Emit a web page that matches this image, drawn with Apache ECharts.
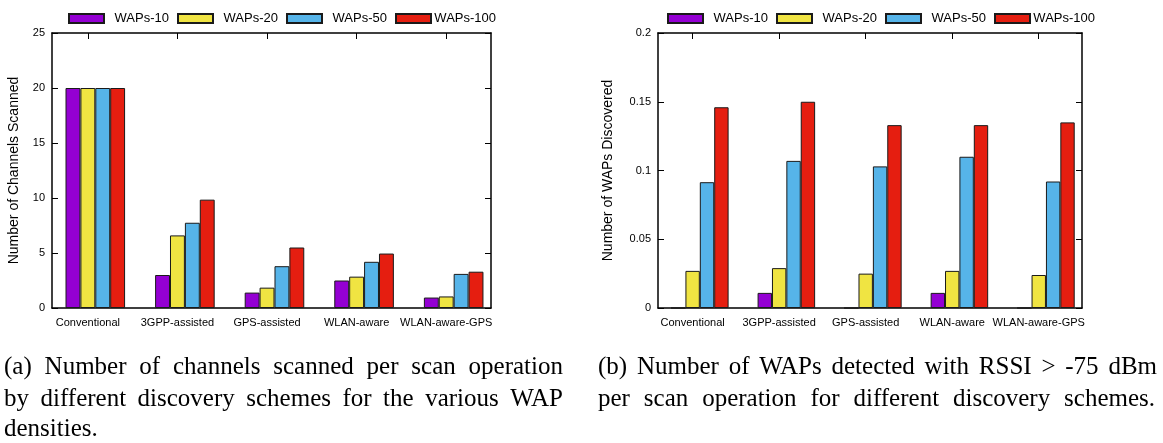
<!DOCTYPE html>
<html>
<head>
<meta charset="utf-8">
<script src="https://cdn.jsdelivr.net/npm/echarts@6/dist/echarts.min.js"></script>
<style>
  html, body { margin: 0; padding: 0; background: #fff; }
  #main { width: 1163px; height: 443px; }
</style>
</head>
<body>
<div id="main"></div>
<script>
const schemes = ['Conventional', '3GPP-assisted', 'GPS-assisted', 'WLAN-aware', 'WLAN-aware-GPS'];
const densities = ['WAPs-10', 'WAPs-20', 'WAPs-50', 'WAPs-100'];

// (a) channels scanned per scan operation
const channels10 = [20, 3.0, 1.4, 2.5, 0.95];
const channels20 = [20, 6.6, 1.85, 2.85, 1.05];
const channels50 = [20, 7.75, 3.8, 4.2, 3.1];
const channels100 = [20, 9.85, 5.5, 4.95, 3.3];

// (b) WAPs discovered with RSSI > -75 dBm
const waps10 = [0, 0.011, 0, 0.011, 0];
const waps20 = [0.027, 0.029, 0.025, 0.027, 0.024];
const waps50 = [0.0915, 0.107, 0.103, 0.110, 0.092];
const waps100 = [0.146, 0.15, 0.133, 0.133, 0.135];

const captionA = [
  '(a) Number of channels scanned per scan operation',
  'by different discovery schemes for the various WAP',
  'densities.'
];
const captionB = [
  '(b) Number of WAPs detected with RSSI > -75 dBm',
  'per scan operation for different discovery schemes.'
];

const colors = ['#9400d3', '#f0e442', '#56b4e9', '#e51e10'];
// gnuplot puts the tic under the 2nd bar of a cluster, so clusters sit half a bar to the right
const shift = 1 / 12;

let chart = echarts.init(document.getElementById('main'));

function bars(values, k, idx) {
  return {
    name: densities[k],
    type: 'bar',
    xAxisIndex: idx * 2,
    yAxisIndex: idx * 2,
    data: values.map((v, i) => [i + shift, v]),
    barGap: '0%',
    barCategoryGap: '33.5%',
    itemStyle: { color: colors[k], borderColor: '#1a1a1a', borderWidth: 1 },
    emphasis: { disabled: true },
    animation: false
  };
}

function legend(left) {
  return {
    data: densities,
    left: left,
    top: 7,
    icon: 'rect',
    itemWidth: 35,
    itemHeight: 9,
    itemGap: 8,
    selectedMode: false,
    formatter: '{n|{name}}',
    textStyle: {
      fontSize: 13, color: '#000',
      rich: { n: { width: 60, align: 'right', fontSize: 13, color: '#000' } }
    }
  };
}

const frame = { show: true, onZero: false, lineStyle: { color: '#000', width: 1.5 } };
const inTick = { show: true, inside: true, length: 6, lineStyle: { color: '#000', width: 1 } };
const tickValues = schemes.map((s, i) => i);

function xAxes(gridIndex) {
  return [{
    gridIndex: gridIndex, type: 'value', position: 'bottom', min: -0.4, max: 4.5,
    axisLine: frame, axisTick: { show: false }, splitLine: { show: false },
    axisLabel: {
      customValues: tickValues,
      formatter: v => schemes[Math.round(v)],
      fontSize: 11, color: '#000', margin: 9
    }
  }, {
    gridIndex: gridIndex, type: 'value', position: 'top', min: -0.4, max: 4.5,
    axisLine: frame, axisTick: Object.assign({ customValues: tickValues }, inTick),
    axisLabel: { show: false }, splitLine: { show: false }
  }];
}

function yAxes(gridIndex, max, step, name, gap) {
  return [{
    gridIndex: gridIndex, type: 'value', position: 'left', min: 0, max: max, interval: step,
    axisLine: frame, axisTick: inTick, splitLine: { show: false },
    axisLabel: { fontSize: 11, color: '#000', margin: 7 },
    name: name, nameLocation: 'middle', nameGap: gap,
    nameTextStyle: { fontSize: 14, color: '#000' }
  }, {
    gridIndex: gridIndex, type: 'value', position: 'right', min: 0, max: max, interval: step,
    axisLine: frame, axisTick: inTick, splitLine: { show: false },
    axisLabel: { show: false }
  }];
}

// LaTeX style justified caption lines
const measure = document.createElement('canvas').getContext('2d');
const capSize = 25;
const capFamily = '"Liberation Serif", "Times New Roman", serif';
function captionLine(text, x, baseline, width) {
  measure.font = capSize + 'px ' + capFamily;
  const words = text.split(' ');
  const inked = words.reduce((s, w) => s + measure.measureText(w).width, 0);
  const gap = width ? (width - inked) / (words.length - 1) : measure.measureText(' ').width;
  return {
    type: 'text', x: x, y: baseline - 8.4, silent: true,
    style: {
      text: words.join('{s| }'),
      rich: { s: { width: gap } },
      fontSize: capSize, fontFamily: capFamily, fill: '#000',
      verticalAlign: 'middle'
    }
  };
}

let option = {
  animation: false,
  textStyle: { fontFamily: '"Liberation Sans", Arial, sans-serif' },
  legend: [legend(63), legend(662)],
  grid: [
    { left: 52, top: 33, width: 439, height: 275 },
    { left: 658, top: 33, width: 424, height: 275 }
  ],
  xAxis: xAxes(0).concat(xAxes(1)),
  yAxis: yAxes(0, 25, 5, 'Number of Channels Scanned', 31)
    .concat(yAxes(1, 0.2, 0.05, 'Number of WAPs Discovered', 43)),
  series: [
    bars(channels10, 0, 0), bars(channels20, 1, 0), bars(channels50, 2, 0), bars(channels100, 3, 0),
    bars(waps10, 0, 1), bars(waps20, 1, 1), bars(waps50, 2, 1), bars(waps100, 3, 1)
  ],
  graphic: [
    captionLine(captionA[0], 4, 375.7, 559),
    captionLine(captionA[1], 4, 407.5, 559),
    captionLine(captionA[2], 4, 438),
    captionLine(captionB[0], 598, 375.7, 559),
    captionLine(captionB[1], 598, 407.5, 557)
  ]
};
chart.setOption(option);
</script>
</body>
</html>
